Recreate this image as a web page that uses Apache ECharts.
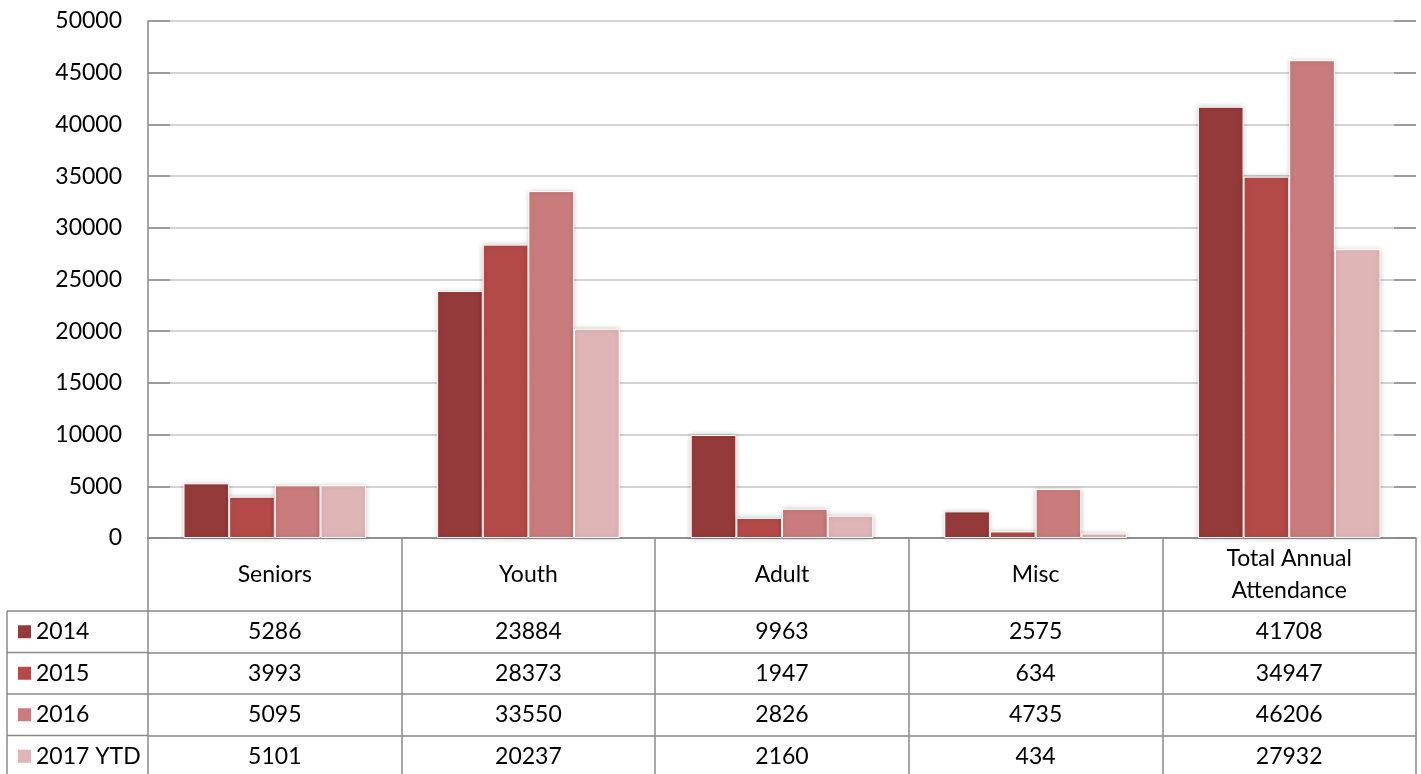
<!DOCTYPE html>
<html>
<head>
<meta charset="utf-8">
<script src="https://cdn.jsdelivr.net/npm/echarts@6/dist/echarts.min.js"></script>
<style>
html,body{margin:0;padding:0;background:#fff;}
#main{width:1421px;height:774px;}
</style>
</head>
<body>
<div id="main"></div>
<script>
var categories = ['Seniors', 'Youth', 'Adult', 'Misc', 'Total Annual\nAttendance'];
var seriesNames = ['2014', '2015', '2016', '2017 YTD'];
var v2014 = [5286, 23884, 9963, 2575, 41708];
var v2015 = [3993, 28373, 1947, 634, 34947];
var v2016 = [5095, 33550, 2826, 4735, 46206];
var v2017 = [5101, 20237, 2160, 434, 27932];
var yTicks = [0, 5000, 10000, 15000, 20000, 25000, 30000, 35000, 40000, 45000, 50000];

var colors = ['#953A3A', '#B34A47', '#C97C7B', '#DFB6B5'];
var allValues = [v2014, v2015, v2016, v2017];

var FONT = 'Lato';
var FS = 23;
var LINE = '#8a8a8a';
var gridLeft = 148, gridRight = 5, gridTop = 21, gridBottom = 236;
var headerH = 73, rowH = 41.5;
var tableLeft = 7;
var tableTop = 774 - gridBottom + headerH;

var chart = echarts.init(document.getElementById('main'));

var xAxes = [{
  type: 'category', gridIndex: 0, position: 'bottom', data: categories,
  boundaryGap: true,
  axisLine: {show: true, lineStyle: {color: LINE, width: 1.5}},
  axisTick: {show: true, interval: 0, length: headerH, lineStyle: {color: LINE, width: 1.5}},
  axisLabel: {interval: 0, margin: headerH / 2, verticalAlign: 'middle', fontFamily: FONT, fontSize: FS, color: '#000', lineHeight: 32, hideOverlap: false}
}];
allValues.forEach(function (vals, i) {
  xAxes.push({
    type: 'category', gridIndex: 0, position: 'bottom', data: categories,
    offset: headerH + rowH * i, boundaryGap: true,
    axisLine: {show: true, onZero: false, lineStyle: {color: LINE, width: 1.5}},
    axisTick: {show: true, interval: 0, length: rowH, lineStyle: {color: LINE, width: 1.5}},
    axisLabel: {interval: 0, margin: rowH / 2, verticalAlign: 'middle', fontFamily: FONT, fontSize: FS, color: '#000', hideOverlap: false,
      formatter: function (v, idx) { return String(vals[idx]); }}
  });
});
xAxes.push({
  type: 'category', gridIndex: 0, position: 'top', data: categories,
  axisLine: {show: true, lineStyle: {color: LINE, width: 1.5}},
  axisTick: {show: false}, axisLabel: {show: false}
});

var series = allValues.map(function (vals, i) {
  return {
    name: seriesNames[i], type: 'bar', data: vals, xAxisIndex: 0, yAxisIndex: 0,
    barGap: '0%', barCategoryGap: '28%',
    itemStyle: {color: colors[i], borderColor: '#fff', borderWidth: 1, shadowBlur: 5, shadowColor: 'rgba(0,0,0,0.22)'}
  };
});

var legends = seriesNames.map(function (name, i) {
  return {
    orient: 'horizontal', left: 18, top: tableTop + rowH * i + rowH / 2 - 12, padding: 0,
    itemWidth: 13, itemHeight: 13, icon: 'rect', data: [name],
    itemStyle: {borderWidth: 0, shadowBlur: 0},
    textStyle: {fontFamily: FONT, fontSize: FS, color: '#000', lineHeight: 24}
  };
});

var graphics = [];
for (var r = 0; r < 4; r++) {
  var y = tableTop + rowH * r;
  graphics.push({type: 'line', shape: {x1: tableLeft, y1: y, x2: gridLeft, y2: y}, style: {stroke: LINE, lineWidth: 1.5}});
}
graphics.push({type: 'line', shape: {x1: tableLeft, y1: tableTop, x2: tableLeft, y2: 774}, style: {stroke: LINE, lineWidth: 1.5}});

chart.setOption({
  backgroundColor: '#fff',
  animation: false,
  textStyle: {fontFamily: FONT},
  grid: {left: gridLeft, right: gridRight, top: gridTop, bottom: gridBottom, containLabel: false},
  legend: legends,
  xAxis: xAxes,
  yAxis: [{
    type: 'value', min: yTicks[0], max: yTicks[yTicks.length - 1], interval: yTicks[1] - yTicks[0],
    axisLine: {show: true, lineStyle: {color: LINE, width: 1.5}},
    axisTick: {show: true, inside: true, length: 22, lineStyle: {color: LINE, width: 1.5}},
    axisLabel: {margin: 26, fontFamily: FONT, fontSize: FS, color: '#000', formatter: function (v) { return String(v); }},
    splitLine: {show: true, lineStyle: {color: '#C4C4C4', width: 1.5}}
  }, {
    type: 'value', position: 'right', min: yTicks[0], max: yTicks[yTicks.length - 1], interval: yTicks[1] - yTicks[0],
    axisLine: {show: false},
    axisTick: {show: true, inside: true, length: 22, lineStyle: {color: LINE, width: 1.5}},
    axisLabel: {show: false}, splitLine: {show: false}
  }],
  series: series,
  graphic: graphics
});
</script>
</body>
</html>
